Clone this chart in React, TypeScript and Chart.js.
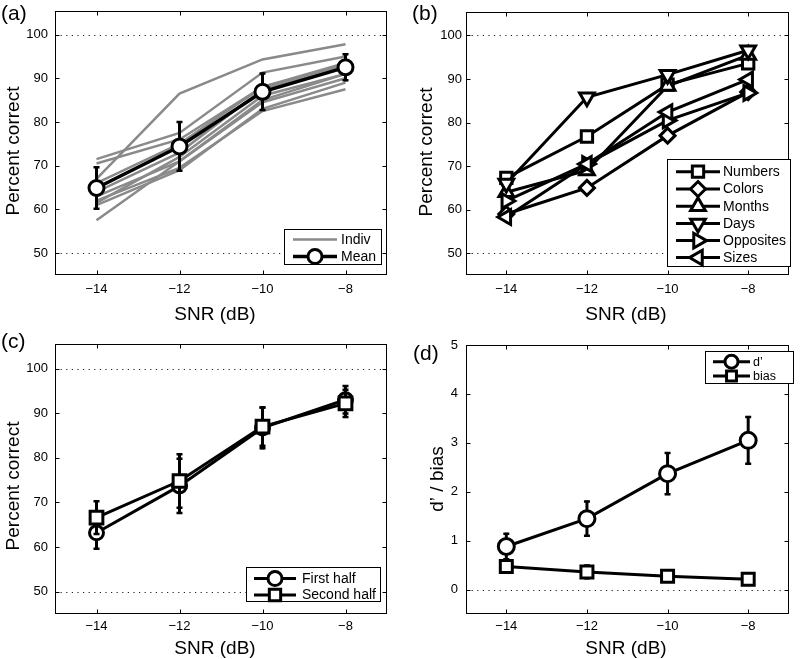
import React, { useEffect, useRef } from 'react';
import { Chart, registerables } from 'chart.js';
import { drawPoint } from 'chart.js/helpers';

Chart.register(...registerables);

// ---------- data ----------
const snr = [-14, -12, -10, -8];
const xTickValues = [-14, -12, -10, -8];
const pctTickValues = [50, 60, 70, 80, 90, 100];
const dTickValues = [0, 1, 2, 3, 4, 5];

// (a) individual listeners + mean
const indiv1 = [67, 86.5, 94.3, 97.8];
const indiv2 = [71.5, 77.5, 91.3, 95];
const indiv3 = [70.5, 76, 88, 93.5];
const indiv4 = [57.5, 71, 85, 91];
const indiv5 = [62, 69.5, 82.5, 87.5];
const indiv6 = [61, 69, 83, 89];
const indiv7 = [63, 71, 84.5, 90];
const indiv8 = [61.5, 72, 86, 91];
const indiv9 = [64, 73, 87.5, 92.5];
const indiv10 = [66, 75, 88, 93];
const meanValues = [64.9, 74.4, 86.9, 92.5];
const meanErr = [5, 5.8, 4.4, 3.2];

// (b) categories
const numbersValues = [67.3, 76.8, 88.7, 93.6];
const colorsValues = [59, 65, 77, 87];
const monthsValues = [64, 69, 88.4, 95.5];
const daysValues = [66, 85.8, 91, 96.6];
const oppositesValues = [62, 70.5, 80.5, 86.8];
const sizesValues = [58.3, 70.5, 82.4, 89.9];

// (c) halves
const firstHalfValues = [63.2, 73.7, 86.7, 93];
const firstHalfErr = [3.8, 6.3, 4.8, 3.3];
const secondHalfValues = [66.6, 74.8, 87, 92.2];
const secondHalfErr = [3.9, 6.2, 4.5, 3.3];

// (d) d' and bias
const dprimeValues = [0.88, 1.45, 2.37, 3.05];
const dprimeErr = [0.28, 0.37, 0.44, 0.5];
const biasValues = [0.47, 0.36, 0.27, 0.21];
const biasErr = [0.1, 0.15, 0.06, 0.05];

// ---------- styling helpers ----------
const FONT = '"Liberation Sans", Arial, Helvetica, sans-serif';
const GRAY = '#8a8a8a';

const pts = (vals: number[]) => snr.map((x, i) => ({ x, y: vals[i] }));

function blackLine(vals: number[], style: string, radius: number, rotation = 0, width = 3) {
  return {
    data: pts(vals),
    borderColor: '#000',
    borderWidth: width,
    pointStyle: style,
    pointRadius: radius,
    pointRotation: rotation,
    pointBorderWidth: 3,
    pointBorderColor: '#000',
    pointBackgroundColor: '#fff',
    tension: 0,
  };
}
function grayLine(vals: number[]) {
  return { data: pts(vals), borderColor: GRAY, borderWidth: 2.5, pointRadius: 0, tension: 0 };
}

type LegendItem = { label: string; color: string; width: number; pointStyle?: string; radius?: number; rotation?: number };
type PanelDef = {
  key: string; left: number; top: number; width: number; height: number;
  padTop: number; padRight: number; yWidth: number; xHeight: number;
  yMin: number; yMax: number; yTicks: number[]; yTickPad: number; xTickPad: number;
  refLines: number[];
  makeDatasets: () => any[];
  errorBars: Record<number, number[]>;
  label: { text: string; x: number; y: number };
  yTitle: { text: string; x: number; y: number };
  xTitle: { text: string; x: number; y: number };
  legend: { box: [number, number, number, number]; rows: number[]; lineX: [number, number]; textX: number; font: number; items: LegendItem[] };
};

const panels: PanelDef[] = [
  {
    key: 'a', left: 0, top: 0, width: 400, height: 330,
    padTop: 5, padRight: 13, yWidth: 55, xHeight: 55,
    yMin: 45, yMax: 105.5, yTicks: pctTickValues, yTickPad: 7, xTickPad: 7,
    refLines: [50, 100],
    makeDatasets: () => [
      blackLine(meanValues, 'circle', 7.5, 0, 3.5),
      ...[indiv1, indiv2, indiv3, indiv4, indiv5, indiv6, indiv7, indiv8, indiv9, indiv10].map(grayLine),
    ],
    errorBars: { 0: meanErr },
    label: { text: '(a)', x: 1, y: 20 },
    yTitle: { text: 'Percent correct', x: 19, y: 151 },
    xTitle: { text: 'SNR (dB)', x: 215, y: 320 },
    legend: {
      box: [284, 229, 381, 264], rows: [239.5, 256.5], lineX: [293, 337], textX: 341, font: 14,
      items: [
        { label: 'Indiv', color: GRAY, width: 2.5 },
        { label: 'Mean', color: '#000', width: 3.5, pointStyle: 'circle', radius: 7 },
      ],
    },
  },
  {
    key: 'b', left: 400, top: 0, width: 400, height: 330,
    padTop: 5, padRight: 6, yWidth: 66, xHeight: 55,
    yMin: 45, yMax: 105.5, yTicks: pctTickValues, yTickPad: 4, xTickPad: 7,
    refLines: [50, 100],
    makeDatasets: () => [
      blackLine(numbersValues, 'rect', 8),
      blackLine(colorsValues, 'rectRot', 7.5),
      blackLine(monthsValues, 'triangle', 8.5, 0),
      blackLine(daysValues, 'triangle', 8.5, 180),
      blackLine(oppositesValues, 'triangle', 8.5, 90),
      blackLine(sizesValues, 'triangle', 8.5, 270),
    ].map((d, i) => ({ ...d, order: -i })),
    errorBars: {},
    label: { text: '(b)', x: 12, y: 20 },
    yTitle: { text: 'Percent correct', x: 32, y: 152 },
    xTitle: { text: 'SNR (dB)', x: 226, y: 320 },
    legend: {
      box: [267, 159, 390, 266], rows: [171.7, 189, 206.2, 223.4, 240.6, 257.6], lineX: [276, 320], textX: 323, font: 14,
      items: [
        { label: 'Numbers', color: '#000', width: 3, pointStyle: 'rect', radius: 8 },
        { label: 'Colors', color: '#000', width: 3, pointStyle: 'rectRot', radius: 7.5 },
        { label: 'Months', color: '#000', width: 3, pointStyle: 'triangle', radius: 8.5, rotation: 0 },
        { label: 'Days', color: '#000', width: 3, pointStyle: 'triangle', radius: 8.5, rotation: 180 },
        { label: 'Opposites', color: '#000', width: 3, pointStyle: 'triangle', radius: 8.5, rotation: 90 },
        { label: 'Sizes', color: '#000', width: 3, pointStyle: 'triangle', radius: 8.5, rotation: 270 },
      ],
    },
  },
  {
    key: 'c', left: 0, top: 330, width: 400, height: 329,
    padTop: 14, padRight: 13, yWidth: 55, xHeight: 45,
    yMin: 45, yMax: 105.5, yTicks: pctTickValues, yTickPad: 7, xTickPad: 5,
    refLines: [50, 100],
    makeDatasets: () => [
      { ...blackLine(firstHalfValues, 'circle', 7), order: 1 },
      { ...blackLine(secondHalfValues, 'rect', 9), order: 0 },
    ],
    errorBars: { 0: firstHalfErr, 1: secondHalfErr },
    label: { text: '(c)', x: 1, y: 18 },
    yTitle: { text: 'Percent correct', x: 19, y: 156 },
    xTitle: { text: 'SNR (dB)', x: 215, y: 324 },
    legend: {
      box: [246, 237, 380, 271], rows: [248.5, 265], lineX: [254, 296], textX: 302, font: 14,
      items: [
        { label: 'First half', color: '#000', width: 3, pointStyle: 'circle', radius: 7 },
        { label: 'Second half', color: '#000', width: 3, pointStyle: 'rect', radius: 8 },
      ],
    },
  },
  {
    key: 'd', left: 400, top: 330, width: 400, height: 329,
    padTop: 15, padRight: 6, yWidth: 66, xHeight: 45,
    yMin: -0.5, yMax: 5, yTicks: dTickValues, yTickPad: 8, xTickPad: 5,
    refLines: [0],
    makeDatasets: () => [
      blackLine(dprimeValues, 'circle', 8),
      blackLine(biasValues, 'rect', 8.5),
    ],
    errorBars: { 0: dprimeErr, 1: biasErr },
    label: { text: '(d)', x: 13, y: 30 },
    yTitle: { text: 'd\u2019 / bias', x: 43, y: 149 },
    xTitle: { text: 'SNR (dB)', x: 226, y: 324 },
    legend: {
      box: [305, 21, 393, 53], rows: [31.7, 46], lineX: [313, 350], textX: 353, font: 12.5,
      items: [
        { label: 'd\u2019', color: '#000', width: 3, pointStyle: 'circle', radius: 6.5 },
        { label: 'bias', color: '#000', width: 3, pointStyle: 'rect', radius: 7 },
      ],
    },
  },
];

const fmtTick = (v: number) => (v < 0 ? '\u2212' + Math.abs(v) : String(v));

function makeDecor(p: PanelDef) {
  return {
    id: 'decor_' + p.key,
    beforeDatasetsDraw(chart: any) {
      const { ctx, chartArea: ca } = chart;
      const y = chart.scales.y;
      ctx.save();
      ctx.strokeStyle = '#222';
      ctx.lineWidth = 1;
      ctx.setLineDash([1.2, 4.4]);
      p.refLines.forEach((v) => {
        const py = Math.round(y.getPixelForValue(v)) + 0.5;
        ctx.beginPath();
        ctx.moveTo(ca.left, py);
        ctx.lineTo(ca.right, py);
        ctx.stroke();
      });
      ctx.restore();
    },
    beforeDatasetDraw(chart: any, args: any) {
      const errs = p.errorBars[args.index];
      if (!errs) return;
      const ds = chart.data.datasets[args.index];
      const x = chart.scales.x;
      const y = chart.scales.y;
      const ctx = chart.ctx;
      ctx.save();
      ctx.strokeStyle = '#000';
      ds.data.forEach((pt: any, i: number) => {
        const px = x.getPixelForValue(pt.x);
        const top = y.getPixelForValue(pt.y + errs[i]);
        const bot = y.getPixelForValue(pt.y - errs[i]);
        ctx.lineWidth = 3;
        ctx.beginPath();
        ctx.moveTo(px, top);
        ctx.lineTo(px, bot);
        ctx.stroke();
        ctx.lineWidth = 2.5;
        ctx.beginPath();
        ctx.moveTo(px - 3, top + 1);
        ctx.lineTo(px + 3, top + 1);
        ctx.moveTo(px - 3, bot - 1);
        ctx.lineTo(px + 3, bot - 1);
        ctx.stroke();
      });
      ctx.restore();
    },
    afterDatasetsDraw(chart: any) {
      const { ctx, chartArea: ca } = chart;
      const x = chart.scales.x;
      const y = chart.scales.y;
      const L = Math.round(ca.left) + 0.5, R = Math.round(ca.right) - 0.5;
      const T = Math.round(ca.top) + 0.5, B = Math.round(ca.bottom) - 0.5;
      ctx.save();
      ctx.strokeStyle = '#000';
      ctx.lineWidth = 1;
      ctx.strokeRect(L, T, R - L, B - T);
      ctx.beginPath();
      const tl = 4;
      xTickValues.forEach((v) => {
        const px = Math.round(x.getPixelForValue(v)) + 0.5;
        ctx.moveTo(px, B); ctx.lineTo(px, B - tl);
        ctx.moveTo(px, T); ctx.lineTo(px, T + tl);
      });
      p.yTicks.forEach((v) => {
        const py = Math.round(y.getPixelForValue(v)) + 0.5;
        ctx.moveTo(L, py); ctx.lineTo(L + tl, py);
        ctx.moveTo(R, py); ctx.lineTo(R - tl, py);
      });
      ctx.stroke();
      ctx.restore();
    },
    afterDraw(chart: any) {
      const ctx = chart.ctx;
      ctx.save();
      ctx.fillStyle = '#000';
      // panel label
      ctx.font = `21px ${FONT}`;
      ctx.textAlign = 'left';
      ctx.textBaseline = 'alphabetic';
      ctx.fillText(p.label.text, p.label.x, p.label.y);
      // x title
      ctx.font = `19px ${FONT}`;
      ctx.textAlign = 'center';
      ctx.fillText(p.xTitle.text, p.xTitle.x, p.xTitle.y);
      // y title
      ctx.save();
      ctx.translate(p.yTitle.x, p.yTitle.y);
      ctx.rotate(-Math.PI / 2);
      ctx.textAlign = 'center';
      ctx.textBaseline = 'alphabetic';
      ctx.fillText(p.yTitle.text, 0, 0);
      ctx.restore();
      // legend
      const lg = p.legend;
      const [x0, y0, x1, y1] = lg.box;
      ctx.fillStyle = '#fff';
      ctx.fillRect(x0, y0, x1 - x0, y1 - y0);
      ctx.strokeStyle = '#000';
      ctx.lineWidth = 1;
      ctx.strokeRect(Math.round(x0) + 0.5, Math.round(y0) + 0.5, Math.round(x1 - x0), Math.round(y1 - y0));
      lg.items.forEach((it, i) => {
        const ry = lg.rows[i];
        ctx.strokeStyle = it.color;
        ctx.lineWidth = it.width;
        ctx.beginPath();
        ctx.moveTo(lg.lineX[0], ry);
        ctx.lineTo(lg.lineX[1], ry);
        ctx.stroke();
        if (it.pointStyle) {
          ctx.fillStyle = '#fff';
          ctx.strokeStyle = '#000';
          ctx.lineWidth = 3;
          drawPoint(ctx, { pointStyle: it.pointStyle as any, radius: it.radius || 7, rotation: it.rotation || 0, borderWidth: 3 } as any, (lg.lineX[0] + lg.lineX[1]) / 2, ry);
        }
        ctx.fillStyle = '#000';
        ctx.font = `${lg.font}px ${FONT}`;
        ctx.textAlign = 'left';
        ctx.textBaseline = 'middle';
        ctx.fillText(it.label, lg.textX, ry + 0.5);
      });
      ctx.restore();
    },
  };
}

function PanelChart({ p }: { p: PanelDef }) {
  const ref = useRef<HTMLCanvasElement>(null);
  useEffect(() => {
    const canvas = ref.current;
    if (!canvas) return;
    const tickFont = { family: FONT, size: 13 };
    const chart = new Chart(canvas, {
      type: 'line',
      data: { datasets: p.makeDatasets() },
      options: {
        animation: false,
        responsive: false,
        devicePixelRatio: 1,
        events: [],
        layout: { padding: { left: 0, top: p.padTop, right: p.padRight, bottom: 0 } },
        plugins: { legend: { display: false }, tooltip: { enabled: false } },
        scales: {
          x: {
            type: 'linear',
            min: -15,
            max: -7,
            grid: { display: false, drawTicks: false, tickLength: 0 },
            border: { display: false },
            afterBuildTicks: (s: any) => { s.ticks = xTickValues.map((v) => ({ value: v })); },
            afterFit: (s: any) => { s.height = p.xHeight; s.paddingLeft = 0; s.paddingRight = 0; },
            ticks: { callback: (v: any) => fmtTick(Number(v)), padding: p.xTickPad, font: tickFont, color: '#000', maxRotation: 0, autoSkip: false },
          },
          y: {
            type: 'linear',
            min: p.yMin,
            max: p.yMax,
            grid: { display: false, drawTicks: false, tickLength: 0 },
            border: { display: false },
            afterBuildTicks: (s: any) => { s.ticks = p.yTicks.map((v) => ({ value: v })); },
            afterFit: (s: any) => { s.width = p.yWidth; s.paddingTop = 0; s.paddingBottom = 0; },
            ticks: { callback: (v: any) => fmtTick(Number(v)), padding: p.yTickPad, font: tickFont, color: '#000', autoSkip: false },
          },
        },
      } as any,
      plugins: [makeDecor(p)],
    });
    return () => chart.destroy();
  }, [p]);
  return (
    <canvas
      ref={ref}
      width={p.width}
      height={p.height}
      style={{ position: 'absolute', left: p.left, top: p.top, width: p.width, height: p.height, display: 'block' }}
    />
  );
}

export default function App() {
  return (
    <div style={{ position: 'absolute', left: 0, top: 0, width: 800, height: 659, background: '#fff', overflow: 'hidden' }}>
      {panels.map((p) => (
        <PanelChart key={p.key} p={p} />
      ))}
    </div>
  );
}
